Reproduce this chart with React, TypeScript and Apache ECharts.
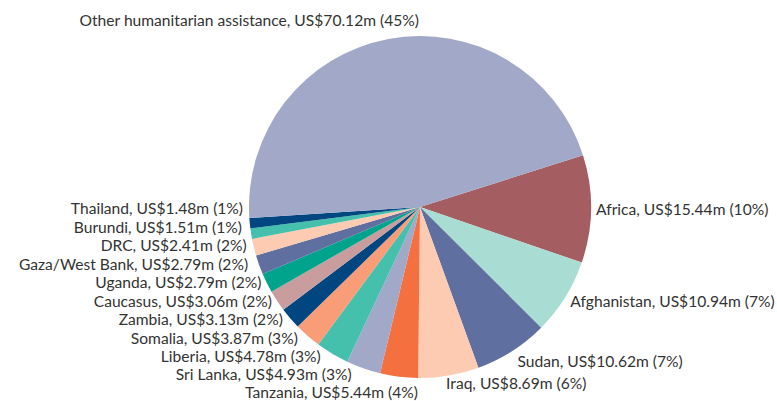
import React, { useEffect, useRef } from "react";
import * as echarts from "echarts";

const categories = [
  "Africa",
  "Afghanistan",
  "Sudan",
  "Iraq",
  "Tanzania",
  "Sri Lanka",
  "Liberia",
  "Somalia",
  "Zambia",
  "Caucasus",
  "Uganda",
  "Gaza/West Bank",
  "DRC",
  "Burundi",
  "Thailand",
  "Other humanitarian assistance",
];
const valuesUSm = [15.44, 10.94, 10.62, 8.69, 5.44, 4.93, 4.78, 3.87, 3.13, 3.06, 2.79, 2.79, 2.41, 1.51, 1.48, 70.12];
const sharePct = [10, 7, 7, 6, 4, 3, 3, 3, 2, 2, 2, 2, 2, 1, 1, 45];
const colors = [
  "#a45e61",
  "#a9dcd3",
  "#5e6fa0",
  "#fccbb1",
  "#f4703f",
  "#a2a8c8",
  "#44c0ad",
  "#f89d78",
  "#004680",
  "#c99d9d",
  "#00a48d",
  "#5e6fa0",
  "#fccbb1",
  "#44c0ad",
  "#004680",
  "#a2a8c8",
];

// label placement tweaks per slice (layout only): [length, length2, lineHeight]
const labelTweak: Record<string, [number, number, number?]> = {
  Afghanistan: [6, -5],
  Sudan: [12, -6],
  Iraq: [8, -9],
  Tanzania: [17, -26, 14],
  "Sri Lanka": [5, -11, 14],
  Liberia: [8, -9, 14],
  Somalia: [4, -3],
  Zambia: [3, -2],
  Uganda: [0, 2],
  "Gaza/West Bank": [0, 9],
  DRC: [0, 6],
  Burundi: [0, 8],
  Thailand: [0, 6],
  "Other humanitarian assistance": [19, -39],
};

export default function App() {
  const ref = useRef<HTMLDivElement>(null);
  useEffect(() => {
    if (!ref.current) return;
    const chart = echarts.init(ref.current, undefined, { renderer: "svg" });
    chart.setOption({
      animation: false,
      backgroundColor: "#ffffff",
      series: [
        {
          type: "pie",
          center: [420, 207],
          radius: 171,
          startAngle: 17.6,
          clockwise: true,
          avoidLabelOverlap: true,
          data: categories.map((name, i) => {
            const item: any = {
              name,
              value: valuesUSm[i],
              itemStyle: { color: colors[i] },
            };
            const t = labelTweak[name];
            if (t) {
              item.labelLine = { show: false, length: t[0], length2: t[1] };
              if (t[2]) item.label = { lineHeight: t[2] };
            }
            return item;
          }),
          label: {
            show: true,
            position: "outside",
            fontFamily: "Lato",
            fontSize: 15.6,
            lineHeight: 16.5,
            color: "#333333",
            overflow: "none",
            formatter: (p: any) =>
              p.name + ", US$" + valuesUSm[p.dataIndex].toFixed(2) + "m (" + sharePct[p.dataIndex] + "%)",
          },
          labelLine: { show: false, length: 0, length2: 0 },
          itemStyle: { borderWidth: 0 },
        },
      ],
    });
    return () => chart.dispose();
  }, []);
  return (
    <div
      ref={ref}
      style={{ position: "absolute", left: 0, top: 0, width: 777, height: 401 }}
    />
  );
}
